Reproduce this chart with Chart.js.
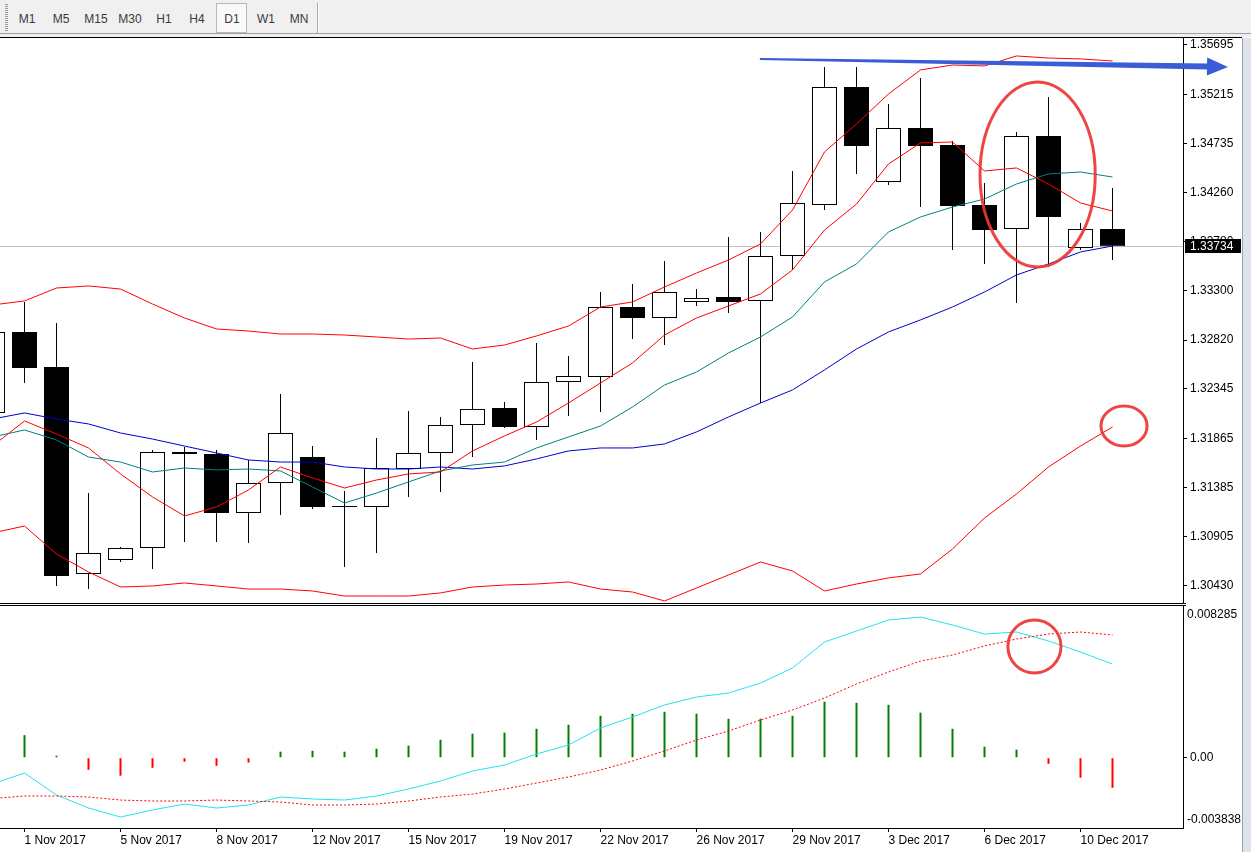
<!DOCTYPE html>
<html>
<head>
<meta charset="utf-8">
<title>GBPUSD D1</title>
<script src="https://cdn.jsdelivr.net/npm/chart.js@4.4.1/dist/chart.umd.min.js"></script>
<style>
  html, body { margin:0; padding:0; background:#ffffff; }
  body { position:relative; width:1251px; height:852px; overflow:hidden; font-family:"Liberation Sans", Arial, sans-serif; }
  #toolbar { position:absolute; left:0; top:0; width:1251px; height:37px; background:#f0f0f0; }
  #toolbar .rule { position:absolute; left:0; top:33px; width:1251px; height:1px; background:#a0a0a0; }
  #grip { position:absolute; left:5px; top:4px; width:3px; height:28px; background:repeating-linear-gradient(to bottom,#9a9a9a 0 1px,transparent 1px 2px); }
  .tf { position:absolute; top:11px; width:36px; margin-left:-18px; text-align:center; font-size:12px; line-height:16px; color:#3a3a3a; }
  #pressed { position:absolute; left:216px; top:3px; width:29px; height:28px; border:1px solid #b9b9b9; background:#f9f9f9; }
  #sep { position:absolute; left:317px; top:3px; width:1px; height:30px; background:#a8a8a8; box-shadow:1px 0 0 #ffffff; }
  #frameTop { position:absolute; left:0; top:37px; width:1242px; height:1px; background:#000; }
  #main { position:absolute; left:0; top:38px; }
  #sub { position:absolute; left:0; top:603px; }
  #scroll { position:absolute; left:1242px; top:38px; width:9px; height:814px; background:#dce3ec; border-left:1px solid #a3a3a3; }
</style>
</head>
<body>
<div id="toolbar">
  <div id="grip"></div>
  <div id="pressed"></div>
  <span class="tf" style="left:27px">M1</span>
  <span class="tf" style="left:61px">M5</span>
  <span class="tf" style="left:96px">M15</span>
  <span class="tf" style="left:130px">M30</span>
  <span class="tf" style="left:164px">H1</span>
  <span class="tf" style="left:197px">H4</span>
  <span class="tf" style="left:232px">D1</span>
  <span class="tf" style="left:266px">W1</span>
  <span class="tf" style="left:299px">MN</span>
  <div id="sep"></div>
  <div class="rule"></div>
</div>
<div id="frameTop"></div>
<canvas id="main" width="1251" height="565"></canvas>
<canvas id="sub" width="1251" height="249"></canvas>
<div id="scroll"></div>

<script>
// ---------------- DATA ----------------
const dates = ["31 Oct 2017","1 Nov 2017","2 Nov 2017","3 Nov 2017","5 Nov 2017","6 Nov 2017","7 Nov 2017","8 Nov 2017","9 Nov 2017","10 Nov 2017",
  "12 Nov 2017","13 Nov 2017","14 Nov 2017","15 Nov 2017","16 Nov 2017","17 Nov 2017","19 Nov 2017","20 Nov 2017","21 Nov 2017","22 Nov 2017",
  "23 Nov 2017","24 Nov 2017","26 Nov 2017","27 Nov 2017","28 Nov 2017","29 Nov 2017","30 Nov 2017","1 Dec 2017","3 Dec 2017","4 Dec 2017",
  "5 Dec 2017","6 Dec 2017","7 Dec 2017","8 Dec 2017","10 Dec 2017","11 Dec 2017"];

const opens  = [1.32111,1.32900,1.32559,1.30543,1.30679,1.30796,1.31731,1.31711,1.31137,1.31429,
  1.31682,1.31205,1.31195,1.31565,1.31721,1.31994,1.32159,1.31974,1.32413,1.32461,
  1.33143,1.33036,1.33192,1.33241,1.33202,1.33640,1.34137,1.35286,1.34361,1.34887,
  1.34721,1.34137,1.33903,1.34809,1.33718,1.33903];
const highs  = [1.32997,1.33192,1.32987,1.31332,1.30806,1.31750,1.31780,1.31750,1.31653,1.32296,
  1.31789,1.31351,1.31867,1.32130,1.32072,1.32607,1.32218,1.32792,1.32666,1.33289,
  1.33367,1.33591,1.33318,1.33825,1.33874,1.34468,1.35481,1.35481,1.35120,1.35374,
  1.34760,1.34351,1.34848,1.35189,1.33961,1.34302];
const lows   = [1.32062,1.32403,1.30426,1.30396,1.30659,1.30591,1.30854,1.30854,1.30845,1.31117,
  1.31176,1.30611,1.30747,1.31293,1.31341,1.31682,1.31965,1.31848,1.32081,1.32120,
  1.32831,1.32773,1.33153,1.33085,1.32208,1.33504,1.34088,1.34439,1.34331,1.34117,
  1.33698,1.33562,1.33182,1.33533,1.33698,1.33601];
const closes = [1.32900,1.32549,1.30523,1.30747,1.30796,1.31731,1.31711,1.31137,1.31429,1.31916,
  1.31195,1.31195,1.31575,1.31721,1.31994,1.32150,1.31974,1.32413,1.32471,1.33143,
  1.33036,1.33289,1.33231,1.33192,1.33640,1.34156,1.35286,1.34711,1.34887,1.34711,
  1.34127,1.33893,1.34809,1.34020,1.33903,1.33734];

const bbUpper = [1.33163,1.33202,1.33328,1.33348,1.33318,1.33172,1.33036,1.32929,1.32909,1.32880,
  1.32880,1.32870,1.32851,1.32831,1.32841,1.32734,1.32773,1.32861,1.32958,1.33143,
  1.33192,1.33338,1.33474,1.33601,1.33757,1.34088,1.34653,1.34926,1.35218,1.35452,
  1.35500,1.35491,1.35588,1.35568,1.35559,1.35539];
const bbLower = [1.30942,1.31010,1.30737,1.30562,1.30416,1.30426,1.30455,1.30426,1.30396,1.30396,
  1.30377,1.30328,1.30328,1.30328,1.30358,1.30416,1.30435,1.30445,1.30465,1.30396,
  1.30367,1.30280,1.30406,1.30533,1.30659,1.30572,1.30377,1.30445,1.30504,1.30543,
  1.30786,1.31088,1.31322,1.31585,1.31789,1.31974];
const maFast  = [1.31789,1.32033,1.31906,1.31770,1.31517,1.31293,1.31108,1.31195,1.31361,1.31585,
  1.31478,1.31380,1.31458,1.31517,1.31536,1.31741,1.31887,1.32023,1.32208,1.32403,
  1.32598,1.32870,1.33036,1.33153,1.33270,1.33504,1.33893,1.34146,1.34536,1.34741,
  1.34750,1.34468,1.34497,1.34341,1.34156,1.34078];
const maMid   = [1.31877,1.31945,1.31848,1.31682,1.31633,1.31536,1.31575,1.31556,1.31565,1.31546,
  1.31390,1.31234,1.31331,1.31439,1.31546,1.31604,1.31633,1.31770,1.31877,1.31984,
  1.32169,1.32383,1.32510,1.32695,1.32851,1.33046,1.33387,1.33562,1.33874,1.34020,
  1.34117,1.34195,1.34341,1.34439,1.34458,1.34409];
const maSlow  = [1.32052,1.32111,1.32052,1.32004,1.31916,1.31857,1.31789,1.31721,1.31653,1.31633,
  1.31633,1.31585,1.31565,1.31565,1.31585,1.31565,1.31595,1.31663,1.31741,1.31770,
  1.31770,1.31809,1.31926,1.32072,1.32208,1.32335,1.32530,1.32734,1.32900,1.33017,
  1.33143,1.33289,1.33455,1.33562,1.33679,1.33737];

const macdMain   = [-0.001436,-0.000836,-0.002037,-0.002747,-0.003238,-0.002856,-0.002528,-0.002747,-0.002583,-0.002146,
  -0.002255,-0.002310,-0.002092,-0.001709,-0.001272,-0.000726,-0.000399,0.000202,0.000694,0.001622,
  0.002223,0.002878,0.003315,0.003533,0.004079,0.004899,0.006318,0.006919,0.007520,0.007684,
  0.007247,0.006755,0.006864,0.006373,0.005772,0.005117];
const macdSignal = [-0.002228,-0.002092,-0.002092,-0.002146,-0.002310,-0.002365,-0.002365,-0.002310,-0.002365,-0.002419,
  -0.002583,-0.002583,-0.002528,-0.002365,-0.002146,-0.001982,-0.001709,-0.001382,-0.001054,-0.000672,
  -0.000180,0.000366,0.000967,0.001458,0.002059,0.002605,0.003260,0.004025,0.004680,0.005281,
  0.005608,0.006100,0.006482,0.006755,0.006864,0.006701];
const macdHist   = [null,0.00123,0.00011,-0.00066,-0.00098,-0.00055,-0.00022,-0.00044,-0.00027,0.00033,
  0.00038,0.00033,0.00049,0.00066,0.00098,0.00131,0.00137,0.00158,0.00180,0.00229,
  0.00240,0.00251,0.00240,0.00213,0.00213,0.00229,0.00306,0.00300,0.00289,0.00246,
  0.00158,0.00060,0.00044,-0.00033,-0.00109,-0.00164];

const priceTicks = [1.35695,1.35215,1.34735,1.34260,1.33780,1.33300,1.32820,1.32345,1.31865,1.31385,1.30905,1.30430];
const priceRange = {min:1.30260, max:1.35763};
const macdRange  = {min:-0.003838, max:0.008285};
const dateTickIdx = [1,4,7,10,13,16,19,22,25,28,31,34];

// hand-drawn marks, in data coordinates (x = bar number, y = price / MACD value)
const trendArrow = {x0:22.98, y0:1.35559, x1:37.61, y1:1.35481};
const priceRings = [{cx:31.66, cy:1.34434, rx:1.80, ry:0.00901}, {cx:34.36, cy:1.31984, rx:0.72, ry:0.00195}];
const macdRings  = [{cx:31.56, cy:0.006072, rx:0.83, ry:0.001447}];

// ---------------- CHARTS ----------------
const FONT_FAMILY = '"Liberation Sans", Arial, sans-serif';
Chart.defaults.font.family = FONT_FAMILY;
Chart.defaults.font.size = 12;
Chart.defaults.color = '#000';

const X_RANGE = {min:-0.766, max:36.203};
const xOf = i => i - 1;
const pts = arr => arr.map((v, i) => ({x:xOf(i), y:v}));
const AXIS_W = 68;

const axisGrid = {display:true, drawOnChartArea:false, drawTicks:true, tickLength:4, color:'#000', lineWidth:1, offset:false};
const axisBorder = {display:true, color:'#000', width:1};
const lineDs = (label, arr, color, extra) => Object.assign({
  type:'line', label, data:pts(arr), borderColor:color, borderWidth:1, pointRadius:0, tension:0, fill:false, order:1
}, extra || {});

function drawRing(ctx, xs, ys, r) {
  const cx = xs.getPixelForValue(r.cx), cy = ys.getPixelForValue(r.cy);
  const rx = Math.abs(xs.getPixelForValue(r.cx + r.rx) - cx);
  const ry = Math.abs(ys.getPixelForValue(r.cy - r.ry) - cy);
  ctx.beginPath();
  ctx.ellipse(cx, cy, rx, ry, 0, 0, Math.PI * 2);
  ctx.strokeStyle = 'rgba(238,52,52,0.92)';
  ctx.lineWidth = 3;
  ctx.stroke();
}

const mainOverlay = {
  id:'mainOverlay',
  beforeDatasetsDraw(chart) {
    const {ctx, chartArea:a, scales:{y}} = chart;
    const py = Math.round(y.getPixelForValue(closes[closes.length - 1])) + 0.5;
    ctx.save();
    ctx.strokeStyle = '#c0c0c0'; ctx.lineWidth = 1;
    ctx.beginPath(); ctx.moveTo(a.left, py); ctx.lineTo(a.right, py); ctx.stroke();
    ctx.restore();
  },
  afterDraw(chart) {
    const {ctx, chartArea:a, scales:{x, y}} = chart;
    ctx.save();
    // current price tag
    const last = closes[closes.length - 1];
    const py = Math.round(y.getPixelForValue(last));
    ctx.fillStyle = '#000';
    ctx.fillRect(a.right + 2, py - 7, 56, 14);
    ctx.fillStyle = '#fff';
    ctx.font = '12px ' + FONT_FAMILY;
    ctx.textAlign = 'left'; ctx.textBaseline = 'middle';
    ctx.fillText(last.toFixed(5), a.right + 7, py + 0.5);
    // rings
    priceRings.forEach(r => drawRing(ctx, x, y, r));
    // arrow
    const p0 = {x:x.getPixelForValue(trendArrow.x0), y:y.getPixelForValue(trendArrow.y0)};
    const p1 = {x:x.getPixelForValue(trendArrow.x1), y:y.getPixelForValue(trendArrow.y1)};
    const len = Math.hypot(p1.x - p0.x, p1.y - p0.y);
    const d = {x:(p1.x - p0.x) / len, y:(p1.y - p0.y) / len};
    const n = {x:-d.y, y:d.x};
    const headL = 21, headW = 9;
    const b = {x:p1.x - d.x * headL, y:p1.y - d.y * headL};
    ctx.fillStyle = '#3a5cd6';
    ctx.beginPath();
    ctx.moveTo(p0.x + n.x * 1, p0.y + n.y * 1);
    ctx.lineTo(b.x + n.x * 3, b.y + n.y * 3);
    ctx.lineTo(b.x + n.x * headW, b.y + n.y * headW);
    ctx.lineTo(p1.x, p1.y);
    ctx.lineTo(b.x - n.x * headW, b.y - n.y * headW);
    ctx.lineTo(b.x - n.x * 3, b.y - n.y * 3);
    ctx.lineTo(p0.x - n.x * 1, p0.y - n.y * 1);
    ctx.closePath();
    ctx.fill();
    ctx.restore();
  }
};

new Chart(document.getElementById('main'), {
  type:'bar',
  data:{
    datasets:[
      lineDs('BB upper', bbUpper, '#ff0000'),
      lineDs('BB lower', bbLower, '#ff0000'),
      lineDs('MA fast', maFast, '#ff0000'),
      lineDs('MA mid', maMid, '#008080'),
      lineDs('MA slow', maSlow, '#0000cd'),
      {
        type:'bar', label:'body', order:2, grouped:false,
        data:opens.map((o, i) => ({x:xOf(i), y:[o, closes[i]]})),
        barThickness:25, borderWidth:1, borderColor:'#000', borderSkipped:false, inflateAmount:0,
        backgroundColor:c => (closes[c.dataIndex] < opens[c.dataIndex] ? '#000' : '#fff')
      },
      {
        type:'bar', label:'wick', order:3, grouped:false,
        data:lows.map((l, i) => ({x:xOf(i), y:[l, highs[i]]})),
        barThickness:1, borderWidth:0, backgroundColor:'#000', inflateAmount:0
      }
    ]
  },
  options:{
    responsive:false, animation:false,
    layout:{padding:0},
    plugins:{legend:{display:false}, tooltip:{enabled:false}},
    scales:{
      x:{type:'linear', offset:false, min:X_RANGE.min, max:X_RANGE.max, display:false, grid:{offset:false}},
      y:{
        type:'linear', position:'right', min:priceRange.min, max:priceRange.max,
        afterBuildTicks:s => { s.ticks = priceTicks.map(v => ({value:v})); },
        afterFit:s => { s.width = AXIS_W; s.paddingTop = 0; s.paddingBottom = 0; },
        ticks:{padding:3, color:'#000', callback:v => Number(v).toFixed(5)},
        grid:axisGrid, border:axisBorder
      }
    }
  },
  plugins:[mainOverlay]
});

const subOverlay = {
  id:'subOverlay',
  beforeDraw(chart) {
    const {ctx, chartArea:a} = chart;
    ctx.save();
    ctx.fillStyle = '#000';
    ctx.fillRect(0, 0, a.right + 3, 1);
    ctx.fillRect(0, 2, a.right + 3, 1);
    ctx.restore();
  },
  afterDraw(chart) {
    const {ctx, chartArea:a, scales:{x, y}} = chart;
    ctx.save();
    ctx.fillStyle = '#000';
    ctx.font = '12px ' + FONT_FAMILY;
    ctx.textAlign = 'left'; ctx.textBaseline = 'middle';
    ctx.fillText(y.max.toFixed(6), a.right + 4, a.top + 9);
    ctx.fillText(y.min.toFixed(6), a.right + 4, a.bottom - 8);
    macdRings.forEach(r => drawRing(ctx, x, y, r));
    ctx.restore();
  }
};

new Chart(document.getElementById('sub'), {
  type:'bar',
  data:{
    datasets:[
      lineDs('Signal', macdSignal, '#ff0000', {borderDash:[2, 2], order:1}),
      lineDs('MACD', macdMain, '#22e2f2', {order:2}),
      {
        type:'bar', label:'Histogram', order:3, grouped:false,
        data:pts(macdHist), barThickness:2, borderWidth:0, inflateAmount:0,
        backgroundColor:c => (macdHist[c.dataIndex] >= 0 ? '#008000' : '#ff0000')
      }
    ]
  },
  options:{
    responsive:false, animation:false,
    layout:{padding:{top:3, left:0, right:0, bottom:0}},
    plugins:{legend:{display:false}, tooltip:{enabled:false}},
    scales:{
      x:{
        type:'linear', offset:false, position:'bottom', min:X_RANGE.min, max:X_RANGE.max,
        afterBuildTicks:s => { s.ticks = dateTickIdx.map(i => ({value:xOf(i)})); },
        afterFit:s => { s.height = 24; s.paddingLeft = 0; s.paddingRight = 0; },
        ticks:{align:'start', maxRotation:0, minRotation:0, autoSkip:false, padding:1, color:'#000',
               callback:v => dates[Math.round(v) + 1]},
        grid:axisGrid, border:axisBorder
      },
      y:{
        type:'linear', position:'right', min:macdRange.min, max:macdRange.max,
        afterBuildTicks:s => { s.ticks = [{value:0}]; },
        afterFit:s => { s.width = AXIS_W; s.paddingTop = 0; s.paddingBottom = 0; },
        ticks:{padding:3, color:'#000', callback:v => Number(v).toFixed(2)},
        grid:axisGrid, border:axisBorder
      }
    }
  },
  plugins:[subOverlay]
});
</script>
</body>
</html>
